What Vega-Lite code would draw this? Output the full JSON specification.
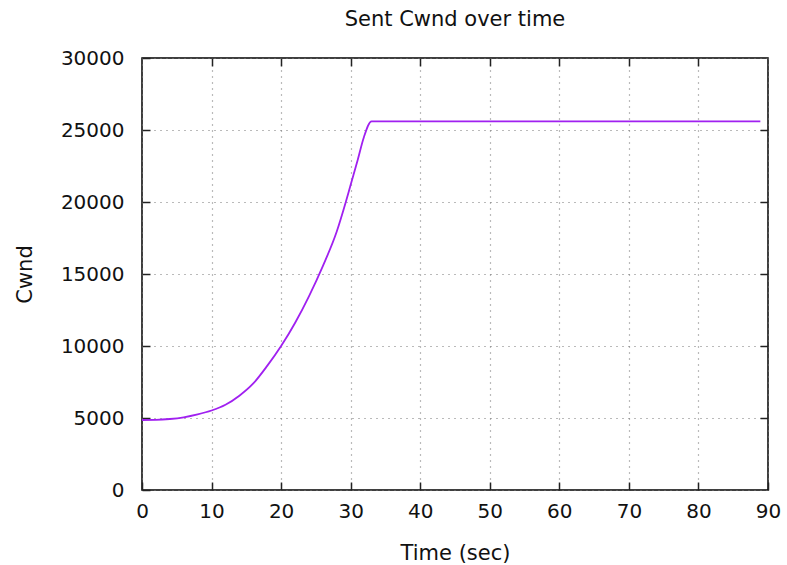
{
  "$schema": "https://vega.github.io/schema/vega-lite/v6.json",
  "autosize": "none",
  "width": 626,
  "height": 432,
  "padding": {"left": 142, "top": 58, "right": 19, "bottom": 75},
  "background": "white",
  "config": {
    "font": "DejaVu Sans",
    "view": {"stroke": "black", "strokeWidth": 1.5},
    "axis": {"labelFont": "DejaVu Sans", "titleFont": "DejaVu Sans", "labelColor": "#111", "titleColor": "#111", "labelFontSize": 20, "titleFontSize": 21, "titleFontWeight": "normal", "domain": false, "tickColor": "#222", "tickWidth": 1.5, "gridColor": "#777", "gridDash": [1, 5], "gridWidth": 1.2, "gridOpacity": 1, "labelFlush": false}
  },
  "title": {"text": "Sent Cwnd over time", "font": "DejaVu Sans", "fontSize": 21, "fontWeight": "normal", "color": "#111", "offset": 18},
  "data": {"values": [
    {"t": 0, "cwnd": 4860},
    {"t": 2, "cwnd": 4870},
    {"t": 4, "cwnd": 4930},
    {"t": 6, "cwnd": 5050},
    {"t": 8, "cwnd": 5250},
    {"t": 10, "cwnd": 5520},
    {"t": 12, "cwnd": 5920},
    {"t": 14, "cwnd": 6550},
    {"t": 16, "cwnd": 7400},
    {"t": 18, "cwnd": 8620},
    {"t": 20, "cwnd": 10000},
    {"t": 22, "cwnd": 11600},
    {"t": 24, "cwnd": 13450},
    {"t": 26, "cwnd": 15550},
    {"t": 28, "cwnd": 17950},
    {"t": 29.3, "cwnd": 20000},
    {"t": 30, "cwnd": 21200},
    {"t": 31, "cwnd": 22900},
    {"t": 31.9, "cwnd": 24500},
    {"t": 33, "cwnd": 25600},
    {"t": 88.9, "cwnd": 25600}
  ]},
  "layer": [
    {
      "mark": {"type": "line", "color": "#a020f0", "strokeWidth": 1.8, "interpolate": "monotone", "clip": true},
      "encoding": {
        "x": {"field": "t", "type": "quantitative", "scale": {"domain": [0, 90], "nice": false}, "axis": {"title": "Time (sec)", "format": "d", "values": [0,10,20,30,40,50,60,70,80,90], "tickSize": -8, "labelPadding": 19, "titlePadding": 21}},
        "y": {"field": "cwnd", "type": "quantitative", "scale": {"domain": [0, 30000], "nice": false}, "axis": {"title": "Cwnd", "format": "d", "values": [0,5000,10000,15000,20000,25000,30000], "tickSize": -8, "labelPadding": 26, "titlePadding": 25}}
      }
    },
    {
      "mark": {"type": "line", "opacity": 0},
      "encoding": {
        "x": {"field": "t", "type": "quantitative", "scale": {"domain": [0, 90], "nice": false}, "axis": {"orient": "top", "title": null, "labels": false, "grid": false, "values": [10,20,30,40,50,60,70,80], "tickSize": -8}},
        "y": {"field": "cwnd", "type": "quantitative", "scale": {"domain": [0, 30000], "nice": false}, "axis": {"orient": "right", "title": null, "labels": false, "grid": false, "values": [5000,10000,15000,20000,25000], "tickSize": -8}}
      }
    }
  ],
  "resolve": {"axis": {"x": "independent", "y": "independent"}}
}
